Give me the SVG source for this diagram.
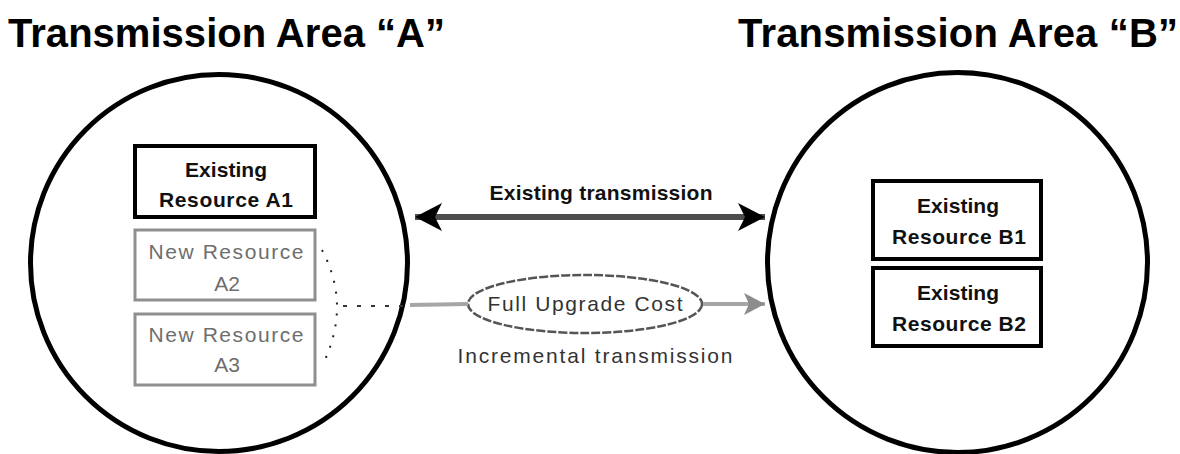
<svg xmlns="http://www.w3.org/2000/svg" width="1180" height="454" viewBox="0 0 1180 454">
<style>
.bg{fill:#fff}
.area{fill:none;stroke:#000;stroke-width:5}
.title{font-family:"Liberation Sans",Arial,sans-serif;font-weight:bold;font-size:40px;fill:#000}
.ex rect{fill:#fff;stroke:#000;stroke-width:4}
.ex text{font-family:"Liberation Sans",Arial,sans-serif;font-weight:bold;font-size:21px;fill:#111;text-anchor:middle}
.nw rect{fill:#fff;stroke:#8f8f8f;stroke-width:3}
.nw text{font-family:"Liberation Sans",Arial,sans-serif;font-size:21px;fill:#6e6e6e;text-anchor:middle}
.lbl{font-family:"Liberation Sans",Arial,sans-serif;font-size:21px;text-anchor:middle}
</style>
<defs>
<marker id="blackHead" markerUnits="userSpaceOnUse" markerWidth="28" markerHeight="28" viewBox="0 0 28 28" refX="27" refY="14" orient="auto-start-reverse">
<path d="M0,0 L27,14 L0,28 L7,14 Z" fill="#000"/>
</marker>
<marker id="grayHead" markerUnits="userSpaceOnUse" markerWidth="22" markerHeight="22" viewBox="0 0 22 22" refX="21" refY="11" orient="auto">
<path d="M0,0 L21,11 L0,22 L5,11 Z" fill="#8c8c8c"/>
</marker>
</defs>
<rect class="bg" x="0" y="0" width="1180" height="454"/>

<g id="areaA">
<circle class="area" cx="219" cy="263" r="188.5"/>
<text class="title" x="8" y="47" textLength="437">Transmission Area “A”</text>
</g>
<g id="areaB">
<circle class="area" cx="957.5" cy="262.5" r="190"/>
<text class="title" x="738" y="47" textLength="440">Transmission Area “B”</text>
</g>

<g id="resA1" class="ex">
<rect x="135" y="146" width="180" height="71"/>
<text x="226" y="177" textLength="82">Existing</text>
<text x="226" y="207" textLength="134">Resource A1</text>
</g>
<g id="resA2" class="nw">
<rect x="135" y="230" width="180" height="70"/>
<text x="226" y="259" textLength="155">New Resource</text>
<text x="227" y="291">A2</text>
</g>
<g id="resA3" class="nw">
<rect x="135" y="314" width="180" height="71"/>
<text x="226" y="342" textLength="155">New Resource</text>
<text x="227" y="372">A3</text>
</g>
<g id="resB1" class="ex">
<rect x="873" y="181" width="168" height="78"/>
<text x="958" y="213" textLength="82">Existing</text>
<text x="959" y="244" textLength="134">Resource B1</text>
</g>
<g id="resB2" class="ex">
<rect x="873" y="268" width="168" height="78"/>
<text x="958" y="300" textLength="82">Existing</text>
<text x="959" y="331" textLength="134">Resource B2</text>
</g>

<g id="fullUpgradeCost">
<ellipse cx="585" cy="304" rx="117" ry="29" fill="#fff" stroke="#555" stroke-width="2.5" stroke-dasharray="9 2"/>
<text class="lbl" x="585" y="311" fill="#333" textLength="195">Full Upgrade Cost</text>
</g>

<g id="connectors">
<line x1="415" y1="217" x2="765" y2="217" stroke="#4d4d4d" stroke-width="6" marker-start="url(#blackHead)" marker-end="url(#blackHead)"/>
<text class="lbl" x="601" y="200" font-weight="bold" fill="#111" textLength="223">Existing transmission</text>
<path d="M322,250 Q352,306 322,366" fill="none" stroke="#222" stroke-width="2" stroke-dasharray="2 9"/>
<line x1="343" y1="306" x2="410" y2="306" stroke="#333" stroke-width="2" stroke-dasharray="4 10"/>
<line x1="410" y1="305" x2="468" y2="304" stroke="#a6a6a6" stroke-width="4"/>
<line x1="703" y1="304" x2="765" y2="304" stroke="#a6a6a6" stroke-width="4" marker-end="url(#grayHead)"/>
<text class="lbl" x="595" y="363" fill="#333" textLength="275">Incremental transmission</text>
</g>
</svg>
